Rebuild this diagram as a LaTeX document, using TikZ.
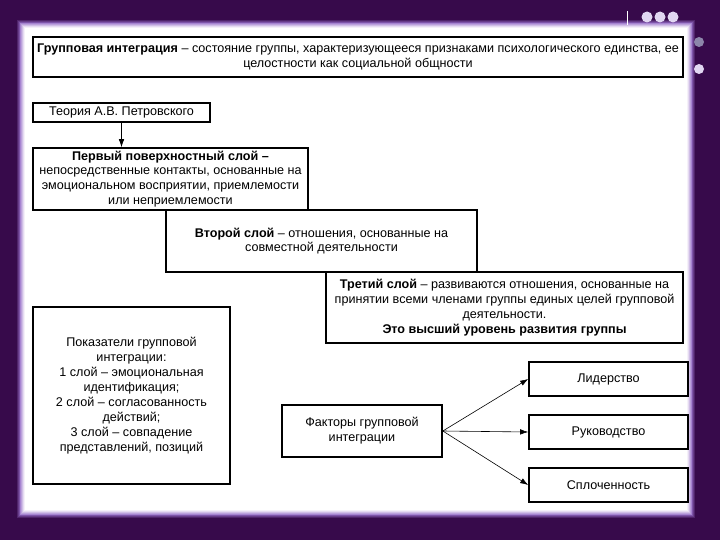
\documentclass[tikz,border=0pt]{standalone}
\usepackage{fontspec}
\setmainfont{Liberation Sans}
\usetikzlibrary{arrows.meta}
\definecolor{bgc}{RGB}{55,10,75}
\definecolor{glowc}{RGB}{150,110,200}
\definecolor{dotc}{RGB}{225,215,242}
\definecolor{dotgray}{RGB}{140,134,170}
\tikzset{
  box/.style={draw=black, line width=1.6pt, fill=white, align=center, inner sep=2pt,
              font=\fontsize{12.6}{14.8}\selectfont},
  arr/.style={-{Latex[length=8pt,width=5.5pt]}, line width=0.6pt}
}
\begin{document}
\begin{tikzpicture}[x=1pt,y=-1pt]
            \useasboundingbox (0,0) rectangle (720,540);
            \fill[bgc] (0,0) rectangle (720,540);
            % panel with soft edge
            \foreach \i/\c in {9/glowc!25!bgc, 8/glowc!50!bgc, 7/glowc!75!bgc, 6/white!15!glowc,
                               5/white!35!glowc, 4/white!55!glowc, 3/white!75!glowc, 2/white!90!glowc, 1/white}
                \fill[\c] (26-\i,29-\i) rectangle (686+\i,509+\i);
            \draw[white, line width=0.8pt] (627,11) -- (627,25);
            \foreach \x in {647,660,673}
                \fill[dotc] (\x,17) circle (5.5);
            \fill[dotgray] (699,42) circle (5);
            \fill[dotc] (699,69) circle (5);
            % definition
            \node[box, minimum width=650, minimum height=40] (def) at (358,57)
                {\textbf{Групповая интеграция} – состояние группы, характеризующееся признаками психологического единства, ее\\
                 целостности как социальной общности};
            % layers
            \node[box, minimum width=177, minimum height=19] (theory) at (121.5,112.5) {Теория А.В. Петровского};
            \node[box, minimum width=275, minimum height=62] (layer1) at (170.5,179)
                {\textbf{Первый поверхностный слой –}\\
                 непосредственные контакты, основанные на\\
                 эмоциональном восприятии, приемлемости\\
                 или неприемлемости};
            \node[box, minimum width=311, minimum height=62] (layer2) at (321.5,241)
                {\textbf{Второй слой} – отношения, основанные на\\
                 совместной деятельности};
            \node[box, minimum width=357, minimum height=71] (layer3) at (504.5,307.5)
                {\textbf{Третий слой} – развиваются отношения, основанные на\\
                 принятии всеми членами группы единых целей групповой\\
                 деятельности.\\
                 \textbf{Это высший уровень развития группы}};
            \draw[arr] (theory.south) -- (theory.south |- layer1.north);
            % indicators
            \node[box, minimum width=197, minimum height=177, font=\fontsize{12.6}{15}\selectfont] (indic) at (131.5,395.5)
                {Показатели групповой\\
                 интеграции:\\
                 1 слой – эмоциональная\\
                 идентификация;\\
                 2 слой – согласованность\\
                 действий;\\
                 3 слой – совпадение\\
                 представлений, позиций};
            % factors
            \node[box, minimum width=160, minimum height=52] (factors) at (362,431)
                {Факторы групповой\\ интеграции};
            \node[box, minimum width=159, minimum height=34] (leader) at (608.5,379) {Лидерство};
            \node[box, minimum width=159, minimum height=34] (guide) at (608.5,432) {Руководство};
            \node[box, minimum width=159, minimum height=34] (unity) at (608.5,485) {Сплоченность};
            \draw[arr] (factors.east) -- (leader.west);
            \draw[arr] (factors.east) -- (guide.west);
            \draw[arr] (factors.east) -- (unity.west);
\end{tikzpicture}
\end{document}
